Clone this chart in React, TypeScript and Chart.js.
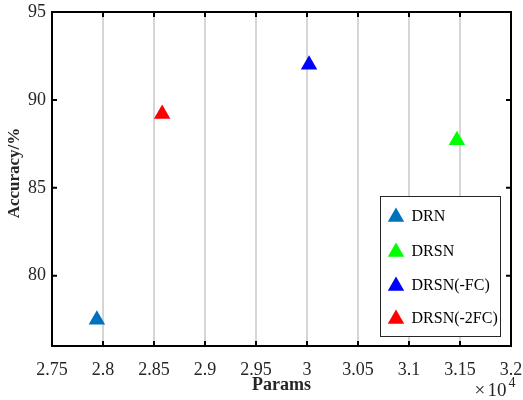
import React, { useEffect, useRef } from "react";
import { Chart, registerables } from "chart.js";

Chart.register(...registerables);

const CATEGORIES = ["DRN", "DRSN", "DRSN(-FC)", "DRSN(-2FC)"];
const PARAMS = [27940, 31470, 30020, 28580];
const ACCURACY = [77.5, 87.7, 92.0, 89.2];
const COLORS = ["#0072BD", "#00FF00", "#0000FF", "#FF0000"];
const X_TICKS = [27500, 28000, 28500, 29000, 29500, 30000, 30500, 31000, 31500, 32000];
const Y_TICKS = [80, 85, 90, 95];
const X_MIN = 27500;
const X_MAX = 32000;
const Y_MIN = 76;
const Y_MAX = 95;
const X_TITLE = "Params";
const Y_TITLE = "Accuracy/%";

const FONT = '"Liberation Serif", "Times New Roman", serif';
const TEXT = "#262626";

function tri(ctx: CanvasRenderingContext2D, x: number, y: number, r: number) {
  ctx.beginPath();
  for (let i = 0; i < 3; i++) {
    const a = (i * 2 * Math.PI) / 3;
    const px = x + Math.sin(a) * r;
    const py = y - Math.cos(a) * r;
    if (i === 0) ctx.moveTo(px, py);
    else ctx.lineTo(px, py);
  }
  ctx.closePath();
  ctx.fill();
}

const framePlugin = {
  id: "frame",
  afterDraw(chart: any) {
    const ctx: CanvasRenderingContext2D = chart.ctx;
    const { left, right, top, bottom } = chart.chartArea;
    const xs = chart.scales.x;
    const ys = chart.scales.y;
    ctx.save();
    // tick marks
    ctx.strokeStyle = "#000";
    ctx.lineWidth = 2;
    const tl = 5;
    ctx.beginPath();
    X_TICKS.forEach((v) => {
      const px = xs.getPixelForValue(v);
      ctx.moveTo(px, bottom);
      ctx.lineTo(px, bottom - tl);
      ctx.moveTo(px, top);
      ctx.lineTo(px, top + tl);
    });
    Y_TICKS.forEach((v) => {
      const py = ys.getPixelForValue(v);
      ctx.moveTo(left, py);
      ctx.lineTo(left + tl, py);
      ctx.moveTo(right, py);
      ctx.lineTo(right - tl, py);
    });
    ctx.stroke();
    // box
    ctx.lineWidth = 2;
    ctx.strokeRect(left, top, right - left, bottom - top);

    // legend
    const lx = 380.5, ly = 196.5, lw = 120, lh = 140;
    ctx.fillStyle = "#fff";
    ctx.fillRect(lx, ly, lw, lh);
    ctx.strokeStyle = "#262626";
    ctx.lineWidth = 1;
    ctx.strokeRect(lx, ly, lw, lh);
    const rows = [216, 251, 285, 318];
    const r = 9.5;
    ctx.font = "16px " + FONT;
    ctx.textBaseline = "middle";
    ctx.textAlign = "left";
    CATEGORIES.forEach((name, i) => {
      ctx.fillStyle = COLORS[i];
      tri(ctx, 396, rows[i] + r / 4 - 1.5, r);
      ctx.fillStyle = "#000";
      ctx.fillText(name, 411.5, rows[i] + 0.5);
    });

    // exponent
    ctx.fillStyle = TEXT;
    ctx.textBaseline = "alphabetic";
    ctx.font = "19px " + FONT;
    ctx.fillText("\u00d7", 474.5, 396);
    ctx.fillText("10", 487.5, 396);
    ctx.font = "14px " + FONT;
    ctx.fillText("4", 508.5, 386.5);

    // y title
    ctx.translate(15, 173);
    ctx.rotate(-Math.PI / 2);
    ctx.font = "bold 17px " + FONT;
    ctx.textAlign = "center";
    ctx.textBaseline = "middle";
    ctx.fillText(Y_TITLE, 0, 0);
    ctx.restore();
  },
};

export default function App() {
  const ref = useRef<HTMLCanvasElement | null>(null);
  useEffect(() => {
    if (!ref.current) return;
    const chart = new Chart(ref.current, {
      type: "scatter",
      data: {
        datasets: CATEGORIES.map((name, i) => ({
          label: name,
          data: [{ x: PARAMS[i], y: ACCURACY[i] }],
          pointStyle: "triangle",
          pointRadius: 9.5,
          pointBorderWidth: 0,
          backgroundColor: COLORS[i],
          borderColor: COLORS[i],
        })),
      },
      options: {
        responsive: false,
        animation: false,
        layout: { padding: { left: 0, right: 12, top: 12, bottom: 0 } },
        plugins: {
          legend: { display: false },
          tooltip: { enabled: false },
        },
        scales: {
          x: {
            type: "linear",
            min: X_MIN,
            max: X_MAX,
            afterBuildTicks: (s: any) => {
              s.ticks = X_TICKS.map((v) => ({ value: v }));
            },
            afterFit: (s: any) => {
              s.height = 54;
              s.paddingLeft = 0;
              s.paddingRight = 0;
              s.paddingTop = 0;
              s.paddingBottom = 0;
            },
            border: { display: false },
            grid: {
              color: "#d6d6d6",
              lineWidth: 2,
              drawTicks: false,
            },
            ticks: {
              padding: 13,
              color: TEXT,
              font: { family: FONT, size: 18 },
              maxRotation: 0,
              callback: (v: any) => String(Number((Number(v) / 1e4).toFixed(2))),
            },
            title: {
              display: true,
              text: X_TITLE,
              color: TEXT,
              font: { family: FONT, size: 18, weight: "bold" },
              padding: { top: 0, bottom: 4 },
            },
          },
          y: {
            type: "linear",
            min: Y_MIN,
            max: Y_MAX,
            afterBuildTicks: (s: any) => {
              s.ticks = Y_TICKS.map((v) => ({ value: v }));
            },
            afterFit: (s: any) => {
              s.width = 52;
              s.paddingLeft = 0;
              s.paddingRight = 0;
              s.paddingTop = 0;
              s.paddingBottom = 0;
            },
            border: { display: false },
            grid: { display: false, drawTicks: false },
            ticks: {
              padding: 6,
              color: TEXT,
              font: { family: FONT, size: 18 },
            },
            title: { display: false },
          },
        },
      },
      plugins: [framePlugin],
    } as any);
    return () => chart.destroy();
  }, []);
  return (
    <div style={{ position: "absolute", left: 0, top: 0, width: 523, height: 400, background: "#fff" }}>
      <canvas ref={ref} width={523} height={400} style={{ display: "block" }} />
    </div>
  );
}
